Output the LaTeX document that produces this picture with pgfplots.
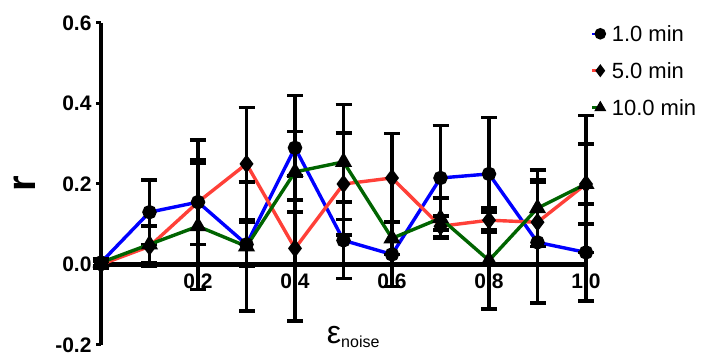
\documentclass[border=0pt]{standalone}
\usepackage{pgfplots}
\usepackage{pgfplotstable}
\pgfplotsset{compat=1.18}
\usepackage{fontspec}
\setmainfont{Liberation Sans}
\usetikzlibrary{calc}
\definecolor{cblue}{RGB}{0,0,255}
\definecolor{cred}{RGB}{255,64,56}
\definecolor{cgreen}{RGB}{0,100,0}

\pgfplotstableread{
x y e
0.0 0.005 0.008
0.1 0.13 0.08
0.2 0.155 0.155
0.3 0.05 0.055
0.4 0.29 0.13
0.5 0.06 0.095
0.6 0.025 0.08
0.7 0.215 0.13
0.8 0.225 0.14
0.9 0.055 0.15
1.0 0.03 0.12
}\tblue
\pgfplotstableread{
x y e
0.0 0.0 0.008
0.1 0.045 0.05
0.2 0.155 0.105
0.3 0.25 0.14
0.4 0.04 0.18
0.5 0.20 0.127
0.6 0.215 0.11
0.7 0.095 0.025
0.8 0.11 0.03
0.9 0.105 0.105
1.0 0.20 0.10
}\tred
\pgfplotstableread{
x y e
0.0 0.005 0.008
0.1 0.05 0.045
0.2 0.095 0.157
0.3 0.045 0.16
0.4 0.23 0.10
0.5 0.255 0.143
0.6 0.065 0.04
0.7 0.115 0.05
0.8 0.01 0.12
0.9 0.14 0.095
1.0 0.20 0.17
}\tgreen

\pgfplotsset{
  myerr/.style={
    error bars/y dir=both, error bars/y explicit,
    error bars/error bar style={black, line width=3.6pt},
    error bars/error mark options={rotate=90, mark size=8pt, black, line width=3.6pt},
  }
}

\begin{document}
\begin{tikzpicture}
\begin{axis}[
  scale only axis, width=485pt, height=322pt,
  xmin=0, xmax=1, ymin=-0.2, ymax=0.6,
  axis lines=middle,
  axis line style={-, line width=4.5pt, black},
  hide obscured x ticks=false, hide obscured y ticks=false,
  clip=false,
  xtick={0.2,0.4,0.6,0.8,1.0},
  ytick={-0.2,0,0.2,0.4,0.6},
  tick label style={font=\fontsize{21}{21}\selectfont\bfseries,
    /pgf/number format/assume math mode=true,
    /pgf/number format/fixed, /pgf/number format/fixed zerofill,
    /pgf/number format/precision=1},
  x tick label style={yshift=-3pt},
  y tick label style={xshift=-1pt},
  tick style={line width=3pt, black},
  major tick length=5pt,
  xtick align=center,
  ytick align=outside,
  ylabel={r},
  ylabel style={at={(axis description cs:-0.157,0.5)}, anchor=center, rotate=90,
    font=\fontsize{40}{40}\selectfont\bfseries},
  xlabel={{\fontsize{32}{32}\selectfont ε}\raisebox{-4pt}{\fontsize{16}{16}\selectfont noise}},
  xlabel style={at={(axis description cs:0.52,0.025)}, anchor=center},
  legend style={at={(axis description cs:1.01,0.995)}, anchor=north west,
    draw=none, fill=none, font=\fontsize{22}{22}\selectfont,
    row sep=19pt, inner sep=0pt,
    nodes={inner sep=1pt, text depth=0pt}},
  legend cell align=left,
  legend image code/.code={
    \draw[#1, line width=2.5pt, mark indices={2}, mark size=4.5pt] plot coordinates {(0pt,0pt) (8pt,0pt)};
  },
]
\addplot[cblue, line width=3.4pt, mark=*, mark size=5.5pt, mark options={black, fill=black}, myerr]
  table[x=x, y=y, y error=e] {\tblue};
\addplot[cred, line width=3.4pt, mark=diamond*, mark size=6.5pt, mark options={black, fill=black}, myerr]
  table[x=x, y=y, y error=e] {\tred};
\addplot[cgreen, line width=3.4pt, mark=triangle*, mark size=6.5pt, mark options={black, fill=black}, myerr]
  table[x=x, y=y, y error=e] {\tgreen};
\legend{\hspace{6pt}1.0 min, \hspace{6pt}5.0 min, \hspace{6pt}10.0 min}
\end{axis}
\pgfresetboundingbox
\path[use as bounding box] ($(current axis.south west)+(-101pt,-13pt)$) rectangle ($(current axis.north east)+(131pt,23pt)$);
\end{tikzpicture}
\end{document}
